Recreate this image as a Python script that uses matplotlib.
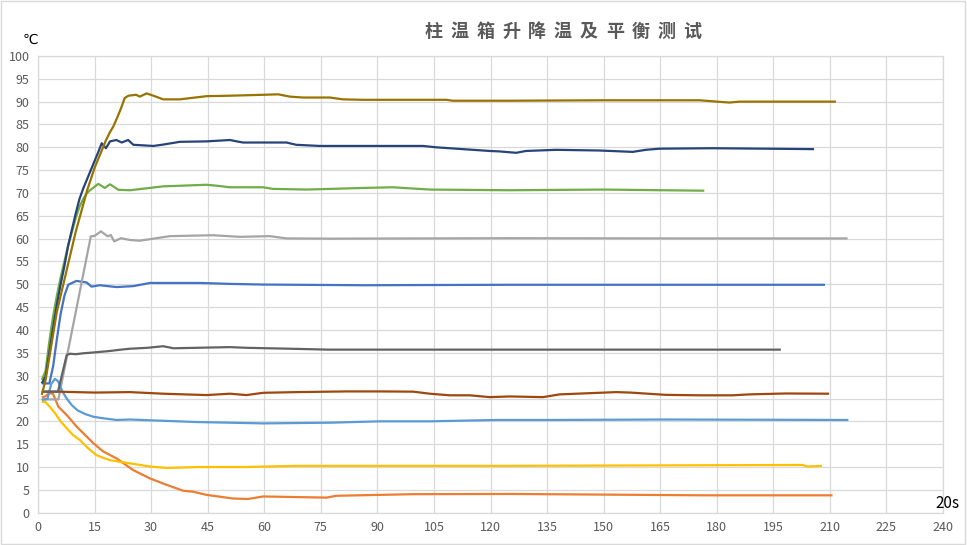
import matplotlib
matplotlib.use('Agg')
import matplotlib.pyplot as plt
from matplotlib.patches import Rectangle

plt.rcParams['font.family'] = ['Noto Sans CJK SC', 'DejaVu Sans']

title = '柱温箱升降温及平衡测试'
y_unit = '℃'
x_unit = '20s'

# 90 ℃ (dark gold)
x_90 = [1, 2, 3, 4, 5, 6, 7, 8, 9, 10, 11, 12, 13, 14, 15, 16, 17, 18, 19, 20, 21, 22, 23, 24,
        25, 26, 27, 28.8, 30.6, 33.2, 37.6, 44.7, 50.9, 59.7, 63.7, 66.8, 70.3, 77.4, 80.9, 86.2,
        108.3, 110, 125, 150, 175.4, 183.3, 186, 200, 211.6]
y_90 = [25.8, 29, 34, 39, 44, 47.5, 51, 54.5, 58, 61.5, 64.5, 67.5, 70.5, 73, 75.5, 77.5, 79.5,
        81.5, 83.2, 84.6, 86.5, 88.5, 90.8, 91.3, 91.4, 91.5, 91.1, 91.8, 91.3, 90.5, 90.5, 91.2,
        91.3, 91.5, 91.6, 91.1, 90.9, 90.9, 90.5, 90.4, 90.4, 90.2, 90.2, 90.3, 90.3, 89.8, 90.0,
        90.0, 90.0]

# 80 ℃ (dark blue)
x_80 = [1, 2, 3, 4, 5, 6, 7, 8, 9, 10, 11, 12, 13, 14, 15, 16, 16.9, 18, 19.1, 20.8, 22.2, 23.9,
        25.3, 30.6, 33.2, 37.6, 44.7, 50.9, 52.7, 54.4, 65.9, 68.5, 74.7, 102.1, 105.6, 112.7,
        119.8, 122.4, 126.8, 129.4, 137.4, 148.9, 157.7, 161.2, 164.8, 178.9, 193, 205.8]
y_80 = [28.3, 29.8, 35, 40.5, 45.5, 50, 54, 58.5, 62, 65.5, 68.7, 71, 73, 75, 77, 79, 80.9, 79.8,
        81.3, 81.6, 81.05, 81.6, 80.55, 80.3, 80.6, 81.2, 81.3, 81.6, 81.3, 81.05, 81.05, 80.55,
        80.3, 80.3, 80.0, 79.6, 79.2, 79.1, 78.8, 79.2, 79.45, 79.3, 79.0, 79.45, 79.7, 79.8,
        79.7, 79.6]

# 70 ℃ (green)
x_70 = [1, 2, 3, 4, 5, 6, 7, 8, 9, 10, 11, 12, 13, 13.8, 16, 17.7, 19.1, 21.3, 24.4, 33.2, 44.7,
        47.3, 50.9, 59.7, 62.3, 71.2, 86.2, 94.1, 103.9, 125, 150, 176.7]
y_70 = [29.1, 31, 37.5, 43, 47.5, 51.5, 55, 58.5, 61.5, 64.5, 67, 68.7, 70, 70.6, 72, 71.1, 71.9,
        70.7, 70.6, 71.45, 71.8, 71.6, 71.25, 71.25, 70.9, 70.75, 71.1, 71.25, 70.75, 70.6,
        70.75, 70.5]

# 60 ℃ (gray)
x_60 = [1, 5.4, 14, 15, 16.7, 18.5, 19.3, 20.2, 22, 24.4, 27, 35, 46.4, 53.5, 61.5, 65.9, 77.4,
        125, 170, 214.7]
y_60 = [24.8, 24.8, 60.5, 60.6, 61.6, 60.5, 60.8, 59.4, 60.1, 59.7, 59.55, 60.55, 60.75, 60.4,
        60.55, 60.05, 60.0, 60.1, 60.05, 60.05]

# 50 ℃ (blue)
x_50 = [1, 3, 4, 5, 6, 7, 8, 10.2, 12.9, 14.2, 16.4, 20.8, 25.2, 29.7, 42.9, 50.9, 59.7, 86.2,
        125, 208.7]
y_50 = [28.3, 28.3, 32, 38, 43.5, 47.5, 49.9, 50.75, 50.4, 49.5, 49.8, 49.4, 49.6, 50.3, 50.3,
        50.1, 49.95, 49.8, 49.9, 49.9]

# 35 ℃ (dark gray)
x_35 = [1, 5.3, 6.3, 7.6, 8.5, 10, 12, 15, 19, 22, 24.4, 29, 33.2, 35.9, 50.9, 55.3, 66.8, 77,
        197]
y_35 = [26.5, 26.5, 30, 34.5, 34.8, 34.7, 34.9, 35.1, 35.4, 35.7, 35.9, 36.1, 36.45, 36.0, 36.25,
        36.1, 35.9, 35.7, 35.7]

# 26 ℃ (brown)
x_26 = [1, 5, 10, 15, 24.4, 33.2, 44.7, 50.9, 55.3, 59.7, 68.5, 81.8, 90.6, 99.5, 103.9, 109.2,
        114.5, 119.8, 125.1, 133.9, 138.3, 153.3, 157, 166.5, 175.4, 184.2, 188.6, 198.3, 209.8]
y_26 = [26.5, 26.5, 26.4, 26.3, 26.4, 26.05, 25.75, 26.05, 25.75, 26.25, 26.4, 26.55, 26.55,
        26.5, 26.05, 25.7, 25.7, 25.3, 25.45, 25.3, 25.9, 26.4, 26.3, 25.8, 25.7, 25.7, 25.9,
        26.1, 26.05]

# 20 ℃ (light blue)
x_20 = [1, 2.5, 3.5, 4.5, 5.3, 6.5, 7.6, 9, 10.5, 12.5, 14.7, 17, 20.8, 24.4, 42, 59.7, 77.4,
        90.6, 103.9, 121.6, 135, 166.5, 214.9]
y_20 = [24.7, 24.9, 28.2, 29.3, 28.8, 26.5, 25, 23.5, 22.4, 21.6, 21.0, 20.7, 20.3, 20.4, 19.85,
        19.55, 19.7, 20.0, 20.0, 20.3, 20.3, 20.4, 20.3]

# 10 ℃ (yellow)
x_10 = [1, 2, 3, 4.5, 6, 7.6, 9.3, 11.1, 13.3, 15.5, 17.3, 19.1, 22, 25.2, 29.7, 34.1, 42.9, 55,
        68.5, 125, 202.7, 204, 207.9]
y_10 = [24.3, 24.2, 23.3, 21.8, 20, 18.5, 17, 15.9, 14.1, 12.6, 12, 11.5, 11.1, 10.7, 10.1, 9.8,
        10.0, 10.0, 10.25, 10.25, 10.45, 10.1, 10.25]

# 4 ℃ (orange)
x_4 = [1, 2, 3, 4, 5.4, 7.6, 10.3, 14.7, 17.3, 20.8, 25.2, 29.7, 34.1, 38.5, 41.1, 44.7, 51.7,
       55.7, 59.7, 76.5, 79.1, 90.6, 99.5, 125, 177.1, 210.7]
y_4 = [25.2, 25.5, 26.2, 26.0, 23.2, 21.4, 18.8, 15.2, 13.4, 11.9, 9.35, 7.5, 6.1, 4.8, 4.6, 3.9,
       3.1, 3.0, 3.55, 3.3, 3.7, 3.9, 4.05, 4.1, 3.8, 3.8]

series = [
    (x_50, y_50, '#4472C4'),
    (x_4, y_4, '#ED7D31'),
    (x_60, y_60, '#A5A5A5'),
    (x_10, y_10, '#FFC000'),
    (x_20, y_20, '#5B9BD5'),
    (x_70, y_70, '#70AD47'),
    (x_80, y_80, '#264478'),
    (x_26, y_26, '#9E480E'),
    (x_35, y_35, '#636363'),
    (x_90, y_90, '#997300'),
]

fig = plt.figure(figsize=(9.67, 5.45), dpi=100)
fig.patches.append(Rectangle((0.001, 0.001), 0.997, 0.997, transform=fig.transFigure,
                             fill=False, edgecolor='#D9D9D9', linewidth=1))
ax = fig.add_axes([0.0393, 0.0593, 0.9359, 0.8380])

for xs, ys, c in series:
    ax.plot(xs, ys, color=c, linewidth=1.6, solid_capstyle='butt')

ax.set_xlim(0, 240)
ax.set_ylim(0, 100)
ax.set_xticks(range(0, 241, 15))
ax.set_yticks(range(0, 101, 5))
ax.grid(True, color='#D9D9D9', linewidth=0.9)
ax.set_axisbelow(True)
for s in ax.spines.values():
    s.set_color('#D9D9D9')
    s.set_linewidth(0.9)
ax.tick_params(length=0, labelsize=9, labelcolor='#595959', pad=6)

# title with wide letter spacing, one glyph at a time
x0, step = 433.5 / 967, 25.9 / 967
for i, ch in enumerate(title):
    fig.text(x0 + i * step, 0.943, ch, ha='center', va='center', fontsize=13,
             fontweight='bold', color='#595959')
fig.text(0.031, 0.927, y_unit, ha='center', va='center', fontsize=10, color='black',
         family=['DejaVu Sans'])
fig.text(0.980, 0.077, x_unit, ha='center', va='center', fontsize=11, color='black')

fig.savefig('out.png', dpi=100)
